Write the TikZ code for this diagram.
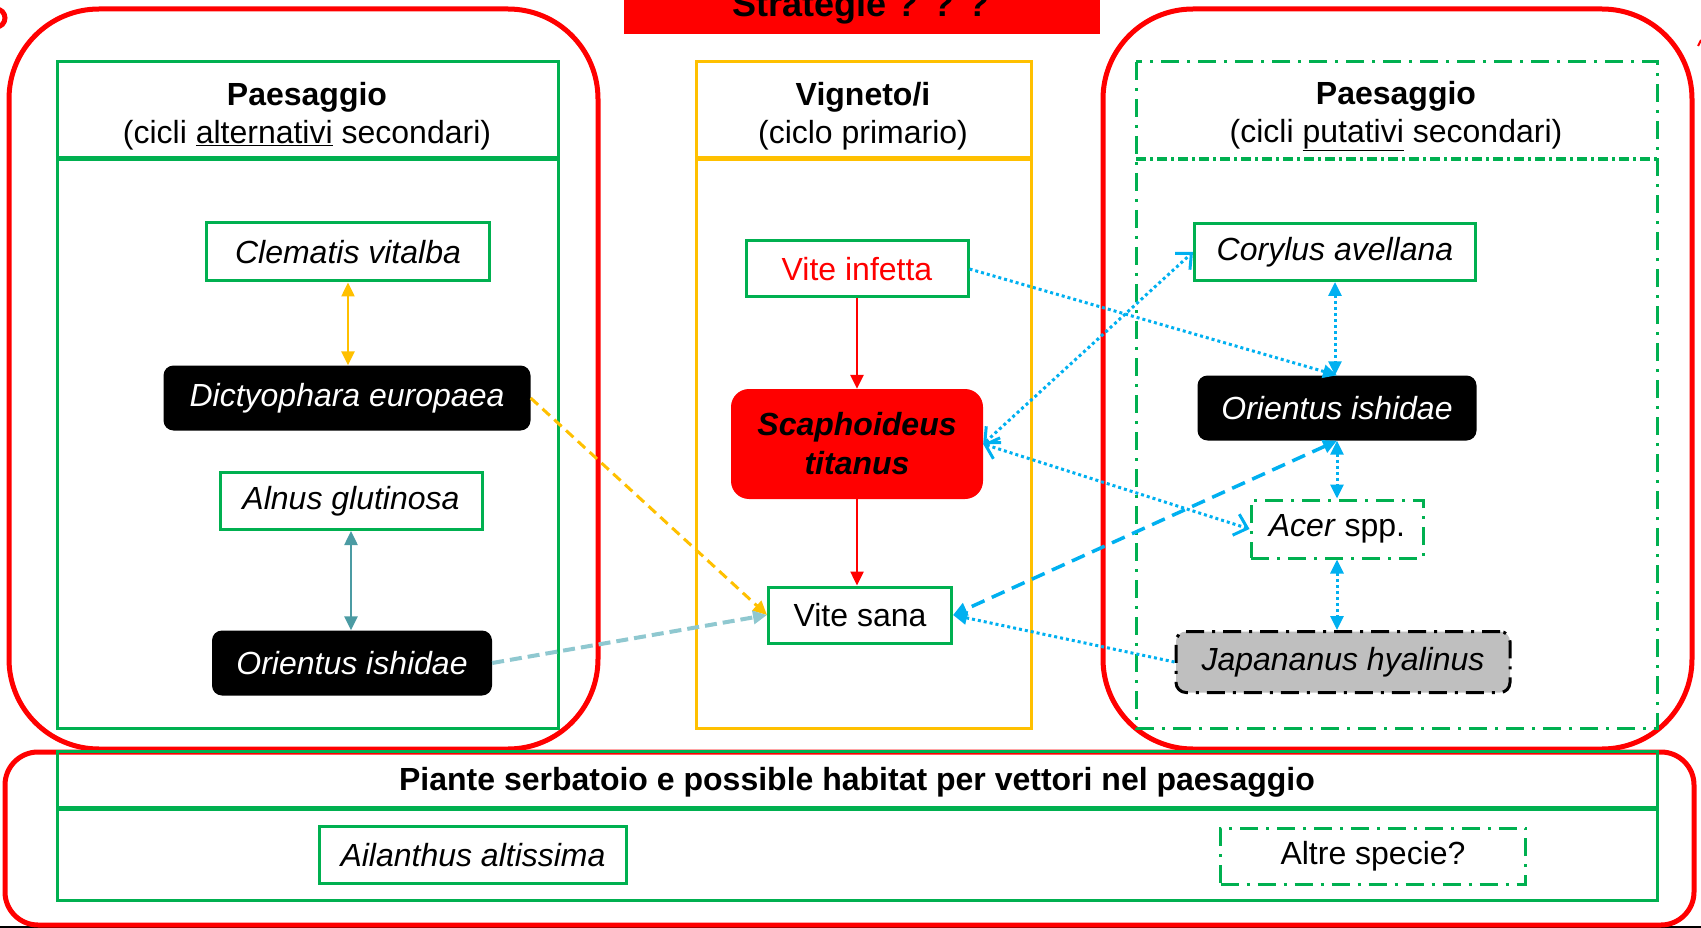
\documentclass[tikz,border=0pt]{standalone}
\usepackage{fontspec}
\setmainfont{Liberation Sans}
\usetikzlibrary{arrows.meta}
\definecolor{ogreen}{HTML}{00B050}
\definecolor{ogold}{HTML}{FFC000}
\definecolor{oblue}{HTML}{00B0F0}
\definecolor{oteal}{HTML}{4B9BA3}
\definecolor{olteal}{HTML}{8FC8D0}
\definecolor{ogrey}{HTML}{BFBFBF}
\tikzset{
  plant/.style={draw=ogreen, line width=3pt, fill=white, inner sep=0pt, font=\fontsize{32}{38}\selectfont\itshape},
  putative/.style={plant, dash pattern=on 18pt off 8pt on 3pt off 8pt},
  insect/.style={fill=black, text=white, rounded corners=10pt, inner sep=0pt, font=\fontsize{32}{38}\selectfont\itshape},
  dashdot/.style={dash pattern=on 18pt off 8pt on 3pt off 8pt},
  bluedot/.style={oblue, line width=3pt, dash pattern=on 3pt off 3pt},
  openarr/.style={{Straight Barb[length=12pt,width=22pt]}-{Straight Barb[length=12pt,width=22pt]}},
  >={Triangle[length=14pt,width=13pt]}
}
\begin{document}
\begin{tikzpicture}[x=1pt,y=-1pt,font=\fontsize{32}{38}\selectfont]
\useasboundingbox (0,0) rectangle (1701,928);
\draw[line width=2pt] (0,927) -- (1701,927);
\draw[red,line width=5pt] (-4,18) circle (9pt);
\draw[red,line width=2pt] (1698,46) -- (1701,40);
\fill[red] (624,-10) rectangle (1100,34);
\node[anchor=base,font=\fontsize{36}{40}\selectfont\bfseries] (strat) at (861,17) {Strategie ? ? ?};

\draw[red,line width=5pt,rounded corners=90pt] (9,9) rectangle (598,749);
\draw[red,line width=5pt,rounded corners=90pt] (1103,9) rectangle (1692,749);
\draw[red,line width=5pt,rounded corners=33pt] (5,752) rectangle (1694,925);

\draw[ogreen,line width=3pt] (57,62) rectangle (558,728);
\draw[ogreen,line width=5pt] (57,159) -- (558,159);
\draw[ogold,line width=3pt] (696,62) rectangle (1031,728);
\draw[ogold,line width=5pt] (696,159) -- (1031,159);
\draw[ogreen,line width=3pt,dashdot] (1136,62) rectangle (1657,728);
\draw[ogreen,line width=4pt,dash pattern=on 10pt off 4pt on 3pt off 4pt] (1136,159) -- (1657,159);
\draw[ogreen,line width=3pt] (57,751) rectangle (1657,900);
\draw[ogreen,line width=5pt] (57,808) -- (1657,808);

\node[align=center] (hleft) at (307,116) {\textbf{Paesaggio}\\(cicli \underline{alternativi} secondari)};
\node[align=center] (hmid) at (863,116) {\textbf{Vigneto/i}\\(ciclo primario)};
\node[align=center] (hright) at (1396,116) {\textbf{Paesaggio}\\(cicli \underline{putativi} secondari)};
\node[font=\fontsize{32}{38}\selectfont\bfseries] (hbot) at (857,782) {Piante serbatoio e possible habitat per vettori nel paesaggio};

\node[plant,minimum width=283pt,minimum height=58pt] (clem) at (348,252) {Clematis vitalba};
\node[insect,minimum width=367pt,minimum height=65pt] (dict) at (347,398) {Dictyophara europaea};
\node[plant,minimum width=262pt,minimum height=57pt] (alnus) at (351,501) {Alnus glutinosa};
\node[insect,minimum width=280pt,minimum height=65pt] (oril) at (352,663) {Orientus ishidae};

\node[plant,text=red,font=\fontsize{32}{38}\selectfont,minimum width=222pt,minimum height=56pt] (vinf) at (857,269) {Vite infetta};
\node[fill=red,rounded corners=18pt,align=center,font=\fontsize{32}{39}\selectfont\bfseries\itshape,minimum width=252pt,minimum height=110pt] (scaph) at (857,444) {Scaphoideus\\titanus};
\node[plant,font=\fontsize{32}{38}\selectfont,minimum width=183pt,minimum height=56pt] (vsana) at (860,615) {Vite sana};

\node[plant,minimum width=281pt,minimum height=57pt] (cory) at (1335,252) {Corylus avellana};
\node[insect,minimum width=279pt,minimum height=65pt] (orir) at (1337,408) {Orientus ishidae};
\node[putative,font=\fontsize{32}{38}\selectfont,minimum width=172pt,minimum height=58pt] (acer) at (1337,529) {\textit{Acer} spp.};
\node[fill=ogrey,draw=black,line width=3pt,dashdot,rounded corners=10pt,inner sep=0pt,font=\fontsize{32}{38}\selectfont\itshape,minimum width=334pt,minimum height=61pt] (japa) at (1343,662) {Japananus hyalinus};

\node[plant,minimum width=307pt,minimum height=57pt] (ail) at (473,855) {Ailanthus altissima};
\node[putative,font=\fontsize{32}{38}\selectfont,minimum width=305pt,minimum height=56pt] (altre) at (1373,856) {Altre specie?};

\draw[ogold,line width=2.5pt,<->] (clem.south) -- (clem.south |- dict.north);
\draw[oteal,line width=2.5pt,<->] (alnus.south) -- (alnus.south |- oril.north);
\draw[red,line width=2.5pt,->] (vinf.south) -- (scaph.north);
\draw[red,line width=2.5pt,->] (scaph.south) -- (scaph.south |- vsana.north);
\draw[ogold,line width=3pt,dash pattern=on 10pt off 6pt,->] (dict.east) -- (vsana.west);
\draw[olteal,line width=4pt,dash pattern=on 12pt off 6pt,->] (oril.east) -- (vsana.west);
\draw[bluedot,<->] (cory.south) -- (cory.south |- orir.north);
\draw[bluedot,<->] (orir.south) -- (orir.south |- acer.north);
\draw[bluedot,<->] (acer.south) -- (acer.south |- japa.north);
\draw[bluedot,->] (vinf.east) -- (orir.north);
\draw[bluedot,openarr] (scaph.east) -- (cory.west);
\draw[bluedot,openarr] (scaph.east) -- (acer.west);
\draw[bluedot,->] (japa.west) -- (vsana.east);
\draw[oblue,line width=3.5pt,dash pattern=on 14pt off 8pt,<->] (orir.south) -- (vsana.east);
\end{tikzpicture}
\end{document}
